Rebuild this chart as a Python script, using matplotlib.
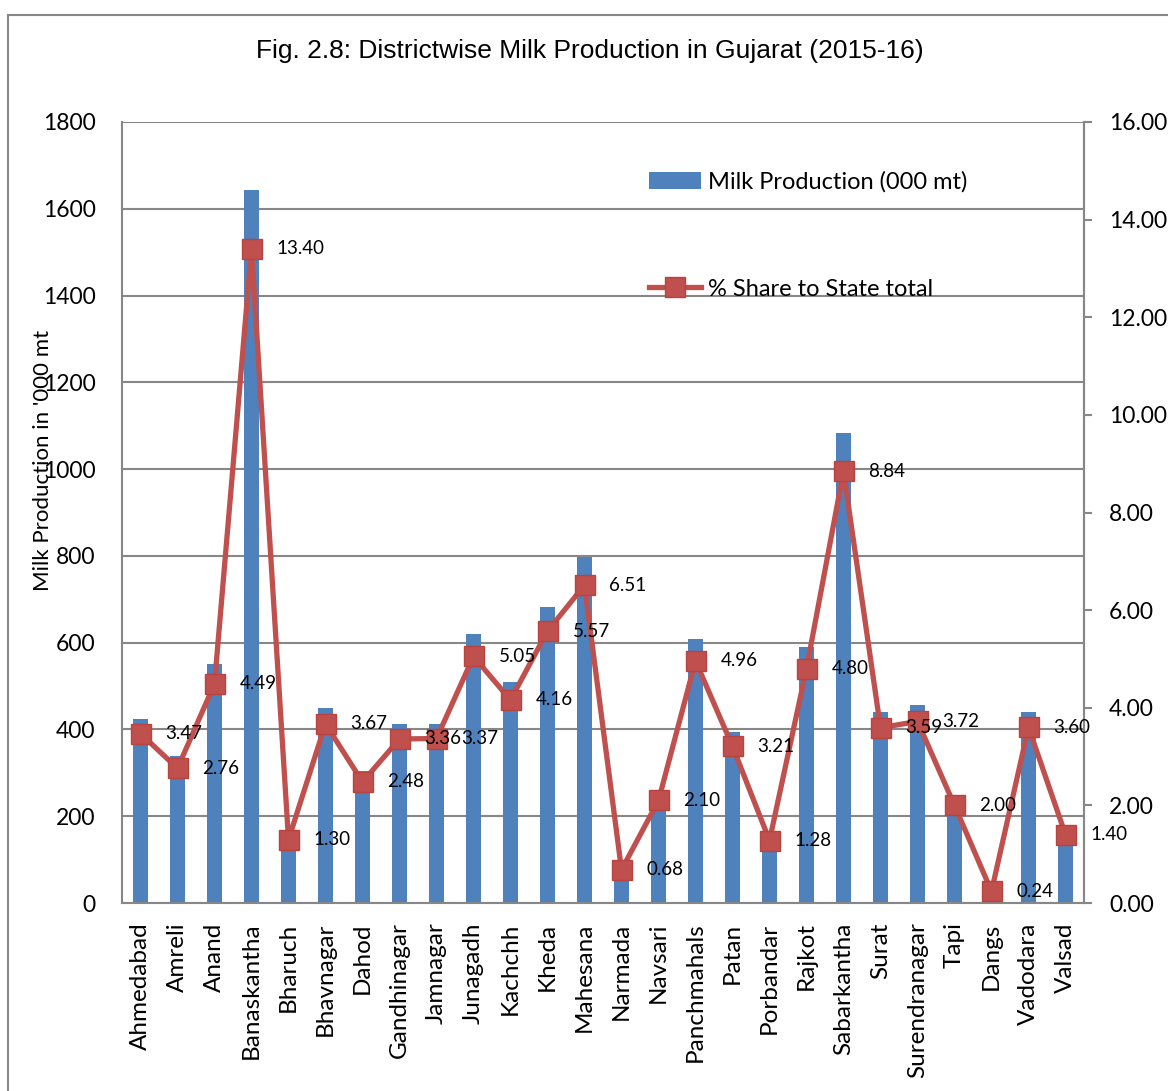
import matplotlib
matplotlib.use("Agg")
import matplotlib.pyplot as plt
from matplotlib.lines import Line2D
import numpy as np

districts = ["Ahmedabad", "Amreli", "Anand", "Banaskantha", "Bharuch", "Bhavnagar",
             "Dahod", "Gandhinagar", "Jamnagar", "Junagadh", "Kachchh", "Kheda",
             "Mahesana", "Narmada", "Navsari", "Panchmahals", "Patan", "Porbandar",
             "Rajkot", "Sabarkantha", "Surat", "Surendranagar", "Tapi", "Dangs",
             "Vadodara", "Valsad"]
milk_production = [425, 338, 551, 1643, 160, 450, 304, 412, 413, 619, 510, 683,
                   798, 83, 257, 608, 394, 157, 589, 1084, 440, 456, 245, 29,
                   441, 172]
share_pct = [3.47, 2.76, 4.49, 13.40, 1.30, 3.67, 2.48, 3.36, 3.37, 5.05, 4.16, 5.57,
             6.51, 0.68, 2.10, 4.96, 3.21, 1.28, 4.80, 8.84, 3.59, 3.72, 2.00, 0.24,
             3.60, 1.40]
left_ticks = [0, 200, 400, 600, 800, 1000, 1200, 1400, 1600, 1800]
right_ticks = [0, 2, 4, 6, 8, 10, 12, 14, 16]

BLUE = "#4F81BD"
RED = "#C0504D"
GRID = "#878787"
ARIAL = "Liberation Sans"
CALIBRI = "Lato"

W, H = 1168, 1091
fig = plt.figure(figsize=(W / 100, H / 100), dpi=100)
ax = fig.add_axes([122 / W, 1 - 903 / H, (1084 - 122) / W, (903 - 122) / H])

x = np.arange(len(districts))
ax.bar(x, milk_production, width=0.4, color=BLUE, zorder=2,
       label="Milk Production (000 mt)")
ax.set_xlim(-0.5, len(districts) - 0.5)
ax.set_ylim(0, 1800)
ax.set_yticks(left_ticks)
ax.set_yticklabels([str(t) for t in left_ticks], fontfamily=CALIBRI, fontsize=16.5)
ax.tick_params(axis="y", length=0, pad=19)
ax.set_xticks(x)
ax.set_xticklabels(districts, rotation=90, fontfamily=CALIBRI, fontsize=17.5)
ax.tick_params(axis="x", length=0, pad=14)
ax.yaxis.grid(True, color=GRID, linewidth=1.5, zorder=0)
ax.set_axisbelow(True)
for s in ["left", "bottom", "right"]:
    ax.spines[s].set_color(GRID)
    ax.spines[s].set_linewidth(1.5)
ax.spines["top"].set_visible(False)
ax.set_ylabel("Milk Production in '000 mt", fontfamily=CALIBRI, fontsize=16)
ax.yaxis.set_label_coords(-0.0717, 0.567)

ax2 = ax.twinx()
ax2.plot(x, share_pct, color=RED, linewidth=3.8, marker="s", markersize=14,
         markerfacecolor=RED, markeredgecolor="#B9433F", zorder=3,
         label="% Share to State total")
ax2.set_ylim(0, 16)
ax2.set_yticks(right_ticks)
ax2.set_yticklabels([f"{t:.2f}" for t in right_ticks], fontfamily=CALIBRI, fontsize=16.5)
ax2.tick_params(axis="y", length=6, width=1.5, color=GRID, pad=12)
for s in ["left", "bottom", "right", "top"]:
    ax2.spines[s].set_visible(False)
ax2.spines["right"].set_visible(True)
ax2.spines["right"].set_color(GRID)
ax2.spines["right"].set_linewidth(1.5)

for xi, v in zip(x, share_pct):
    ax2.annotate(f"{v:.2f}", (xi, v), xytext=(18, 0), textcoords="offset points",
                 ha="left", va="center", fontfamily=CALIBRI, fontsize=13.5,
                 color="black", zorder=4)

h1, l1 = ax.get_legend_handles_labels()
h2, l2 = ax2.get_legend_handles_labels()
leg = ax2.legend(h1 + h2, l1 + l2, loc="upper left",
                 bbox_to_anchor=(649 / W, 1 - 171 / H), bbox_transform=fig.transFigure,
                 frameon=False, prop={"family": CALIBRI, "size": 17},
                 handlelength=2.2, handletextpad=0.3, labelspacing=3.65,
                 borderpad=0, borderaxespad=0)

fig.text(590 / W, 1 - 51 / H,
         "Fig. 2.8: Districtwise Milk Production in Gujarat (2015-16)",
         ha="center", va="center", fontfamily=ARIAL, fontsize=19)

# chart frame (left and top edges)
fig.add_artist(Line2D([8 / W, 8 / W], [0, 1 - 15 / H], transform=fig.transFigure,
                      color=GRID, linewidth=1.5))
fig.add_artist(Line2D([8 / W, 1], [1 - 15 / H, 1 - 15 / H], transform=fig.transFigure,
                      color=GRID, linewidth=1.5))

fig.savefig("out.png", dpi=100)
